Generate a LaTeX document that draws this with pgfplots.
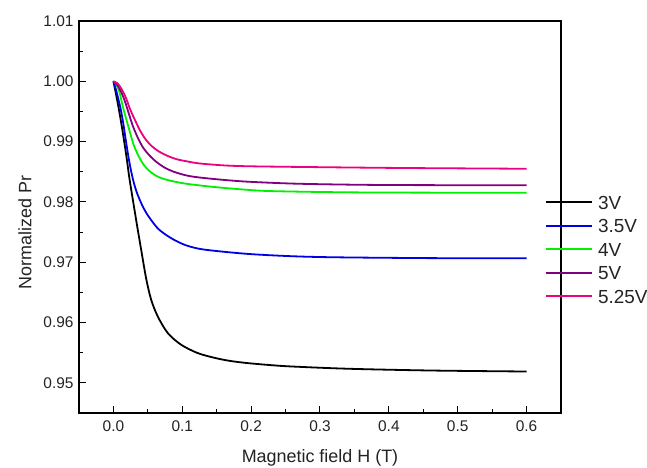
\documentclass[border=0pt]{standalone}
\usepackage{pgfplots}
\pgfplotsset{compat=1.18}
\usepackage{fontspec}
\setmainfont{Liberation Sans}
\definecolor{c3}{RGB}{0,0,0}
\definecolor{c35}{RGB}{0,0,230}
\definecolor{c4}{RGB}{0,240,0}
\definecolor{c5}{RGB}{128,0,128}
\definecolor{c525}{RGB}{235,0,125}
\definecolor{tl}{RGB}{35,35,35}
\begin{document}
\begin{tikzpicture}
\begin{axis}[
  at={(0,0)}, anchor=south west,
  scale only axis, width=482bp, height=392bp,
  xmin=-0.05, xmax=0.65, ymin=0.945, ymax=1.01,
  xtick={0,0.1,...,0.6}, ytick={0.95,0.96,...,1.01},
  minor tick num=1,
  tick align=inside, tick pos=left,
  major tick length=7bp, minor tick length=4bp,
  every tick/.style={black, line width=1bp},
  axis line style={black, line width=1.3bp},
  x tick label style={/pgf/number format/fixed, /pgf/number format/fixed zerofill, /pgf/number format/precision=1, /pgf/number format/assume math mode=true, yshift=-4bp},
  y tick label style={/pgf/number format/fixed, /pgf/number format/fixed zerofill, /pgf/number format/precision=2, /pgf/number format/assume math mode=true, xshift=-2bp},
  tick label style={font=\fontsize{15.5}{17}\selectfont, text=tl},
  label style={font=\fontsize{18}{20}\selectfont, text=tl},
  xlabel={Magnetic field H (T)},
  ylabel={Normalized Pr},
  x label style={at={(axis description cs:0.5,-0.115)}, anchor=center},
  y label style={at={(axis description cs:-0.112,0.46)}, anchor=center},
  legend cell align=left,
  legend image code/.code={\draw[#1, line width=1.8bp](0bp,0bp)--(46bp,0bp);},
  legend style={at={(axis description cs:0.967,0.556)}, anchor=north west,
    draw=none, fill=none, inner sep=0pt, row sep=9.5bp,
    font=\fontsize{19}{21}\selectfont, text=tl,
    nodes={inner sep=0pt, text height=14bp, text depth=0bp},
    /tikz/every odd column/.append style={column sep=5bp}},
  every axis plot/.append style={line width=1.8bp, smooth},
  clip=false,
]
\addplot[c3] coordinates {
(0,1.0000) (0.00436,0.99751) (0.00872,0.99485) (0.01381,0.99136) (0.01890,0.98754)
(0.02326,0.98389) (0.03052,0.97874) (0.03532,0.97542) (0.04026,0.97209) (0.04753,0.96730)
(0.05480,0.96379) (0.06439,0.96101) (0.07892,0.95826) (0.09840,0.95631) (0.12253,0.95493)
(0.14680,0.95415) (0.16860,0.95365) (0.19520,0.95327) (0.23401,0.95289) (0.26308,0.95269)
(0.34302,0.95233) (0.46366,0.95204) (0.6,0.95188)};
\addlegendentry{3V}
\addplot[c35] coordinates {
(0,1.0000) (0.00436,0.99834) (0.01061,0.99535) (0.01453,0.99286) (0.01890,0.98953)
(0.02326,0.98654) (0.02805,0.98389) (0.03343,0.98173) (0.04026,0.97982) (0.04651,0.97841)
(0.05480,0.97699) (0.06541,0.97550) (0.07892,0.97434) (0.09302,0.97342) (0.10799,0.97271)
(0.13227,0.97209) (0.19520,0.97138) (0.26308,0.97098) (0.32849,0.97081) (0.46366,0.97068)
(0.6,0.97065)};
\addlegendentry{3.5V}
\addplot[c4] coordinates {
(0,1.0000) (0.00436,0.99942) (0.00872,0.99826) (0.01352,0.99585) (0.02078,0.99286)
(0.03052,0.98912) (0.04215,0.98646) (0.05233,0.98513) (0.06395,0.98422) (0.07849,0.98364)
(0.10320,0.98306) (0.14680,0.98247) (0.19767,0.98198) (0.23401,0.98178) (0.34302,0.98159)
(0.48837,0.98153) (0.6,0.98151)};
\addlegendentry{4V}
\addplot[c5] coordinates {
(0,1.0000) (0.00581,0.99934) (0.01119,0.99826) (0.01672,0.99668) (0.02180,0.99485)
(0.02805,0.99264) (0.03488,0.99078) (0.04288,0.98904) (0.05233,0.98771) (0.06250,0.98663)
(0.07413,0.98571) (0.08721,0.98502) (0.10610,0.98439) (0.12500,0.98405) (0.16134,0.98364)
(0.19767,0.98334) (0.27035,0.98301) (0.39099,0.98281) (0.6,0.98276)};
\addlegendentry{5V}
\addplot[c525] coordinates {
(0,1.0000) (0.00581,0.99967) (0.01163,0.99875) (0.01817,0.99726) (0.02398,0.99543)
(0.03052,0.99377) (0.03779,0.99203) (0.04578,0.99053) (0.05523,0.98929) (0.06541,0.98841)
(0.07703,0.98771) (0.09157,0.98709) (0.10756,0.98671) (0.12500,0.98638) (0.16134,0.98605)
(0.19767,0.98591) (0.27035,0.98580) (0.41570,0.98563) (0.6,0.98550)};
\addlegendentry{5.25V}
\end{axis}
\pgfresetboundingbox
\path[use as bounding box] (-79bp,-55bp) rectangle (568bp,413bp);
\end{tikzpicture}
\end{document}
